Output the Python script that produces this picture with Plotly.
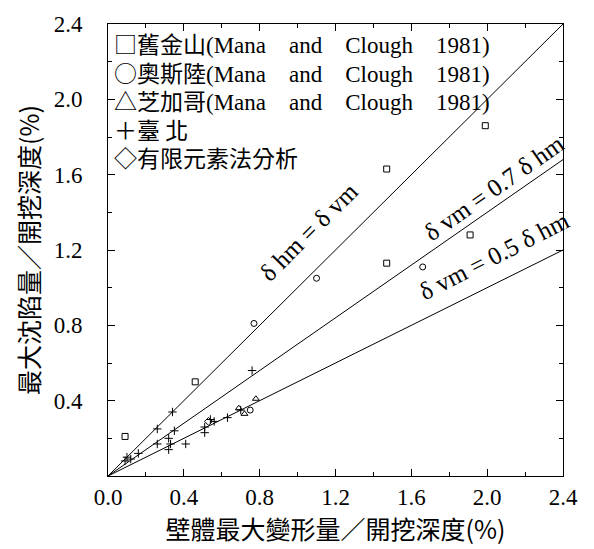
import plotly.graph_objects as go

# Max wall deflection / excavation depth (%) vs max settlement / excavation depth (%)
sf_x = [0.09, 0.46, 1.47, 1.47, 1.91, 1.99]          # 舊金山
sf_y = [0.21, 0.50, 1.63, 1.13, 1.28, 1.86]
oslo_x = [0.77, 1.10, 1.66, 0.75]                     # 奧斯陸
oslo_y = [0.81, 1.05, 1.11, 0.35]
chi_x = [0.72, 0.78, 0.69]                            # 芝加哥
chi_y = [0.33, 0.41, 0.36]
tp_x = [0.76, 0.34, 0.26, 0.35, 0.32, 0.33, 0.26, 0.32, 0.41, 0.51, 0.51,
        0.54, 0.56, 0.63, 0.70, 0.16, 0.12, 0.10, 0.09]   # 臺北
tp_y = [0.56, 0.34, 0.25, 0.24, 0.20, 0.17, 0.17, 0.14, 0.17, 0.23, 0.26,
        0.30, 0.29, 0.31, 0.35, 0.12, 0.09, 0.10, 0.08]
fem_x = [0.53]                                        # 有限元素法分析
fem_y = [0.29]

# Reference ratios δvm / δhm
ratios = [1.0, 0.7, 0.5]
ratio_labels = ["δ hm = δ vm", "δ vm = 0.7 δ hm", "δ vm = 0.5 δ hm"]
label_x = [1.06, 2.04, 2.04]
label_y = [1.30, 1.53, 1.17]
label_angle = [-45, -35, -27]

legend_symbols = ["□", "○", "△", "＋", "◇"]
legend_names = ["舊金山", "奧斯陸", "芝加哥", "臺&nbsp;北", "有限元素法分析"]
legend_refs = ["(Mana&nbsp;&nbsp;&nbsp; and&nbsp;&nbsp;&nbsp; Clough&nbsp;&nbsp;&nbsp; 1981)"] * 3 + ["", ""]

x_max = 2.4
x_ticks = [0.0, 0.4, 0.8, 1.2, 1.6, 2.0, 2.4]
y_ticks = [0.4, 0.8, 1.2, 1.6, 2.0, 2.4]
SERIF = "Liberation Serif, Times New Roman, serif"
CJK = "Noto Sans CJK TC, sans-serif"

fig = go.Figure()

for r in ratios:
    fig.add_trace(go.Scatter(x=[0, x_max], y=[0, r * x_max], mode="lines",
                             line=dict(color="black", width=1), showlegend=False,
                             hoverinfo="skip"))

def pts(xs, ys, sym, size=6):
    fig.add_trace(go.Scatter(x=xs, y=ys, mode="markers", showlegend=False,
                             marker=dict(symbol=sym, size=size, color="black",
                                         line=dict(color="black", width=1))))

pts(sf_x, sf_y, "square-open", 6)
pts(oslo_x, oslo_y, "circle-open", 6)
pts(chi_x, chi_y, "triangle-up-open", 6)
pts(tp_x, tp_y, "cross-thin-open", 6)
pts(fem_x, fem_y, "diamond-open", 6)

for t, lx, ly, ang in zip(ratio_labels, label_x, label_y, label_angle):
    fig.add_annotation(x=lx, y=ly, text=t, showarrow=False, textangle=ang,
                       font=dict(family=SERIF, size=25, color="black"))

# Legend block drawn as text lines
rows = []
for s, n, ref in zip(legend_symbols, legend_names, legend_refs):
    row = f'<span style="font-family:{CJK};font-size:23px">{s}{n}</span>'
    if ref:
        row += f'<span style="font-family:{SERIF};font-size:23px">{ref}</span>'
    rows.append(row)
fig.add_annotation(xref="paper", yref="paper", x=0.008, y=1.0,
                   xanchor="left", yanchor="top", align="left",
                   text="<br>".join(rows), showarrow=False,
                   font=dict(size=22, color="black"))

axis_common = dict(range=[0, x_max], ticks="inside", ticklen=7,
                   tickwidth=1, tickcolor="black", showline=True, linecolor="black",
                   linewidth=1, mirror="ticks", showgrid=False, zeroline=False,
                   tickformat=".1f",
                   tickfont=dict(family=SERIF, size=23, color="black"),
                   minor=dict(dtick=0.2, tick0=0, ticks="inside", ticklen=4,
                              tickcolor="black"))

fig.update_xaxes(**axis_common, tickvals=x_ticks,
                 title=dict(text="壁體最大變形量／開挖深度(%)", standoff=10,
                            font=dict(family=CJK, size=25, color="black")))
fig.update_yaxes(**axis_common, tickvals=y_ticks, ticklabelstandoff=20,
                 title=dict(text="最大沈陷量／開挖深度(%)", standoff=6,
                            font=dict(family=CJK, size=25, color="black")))

fig.update_layout(width=594, height=549, margin=dict(l=108, r=31, t=18, b=69),
                  plot_bgcolor="white", paper_bgcolor="white")

fig.write_html("out.html")
